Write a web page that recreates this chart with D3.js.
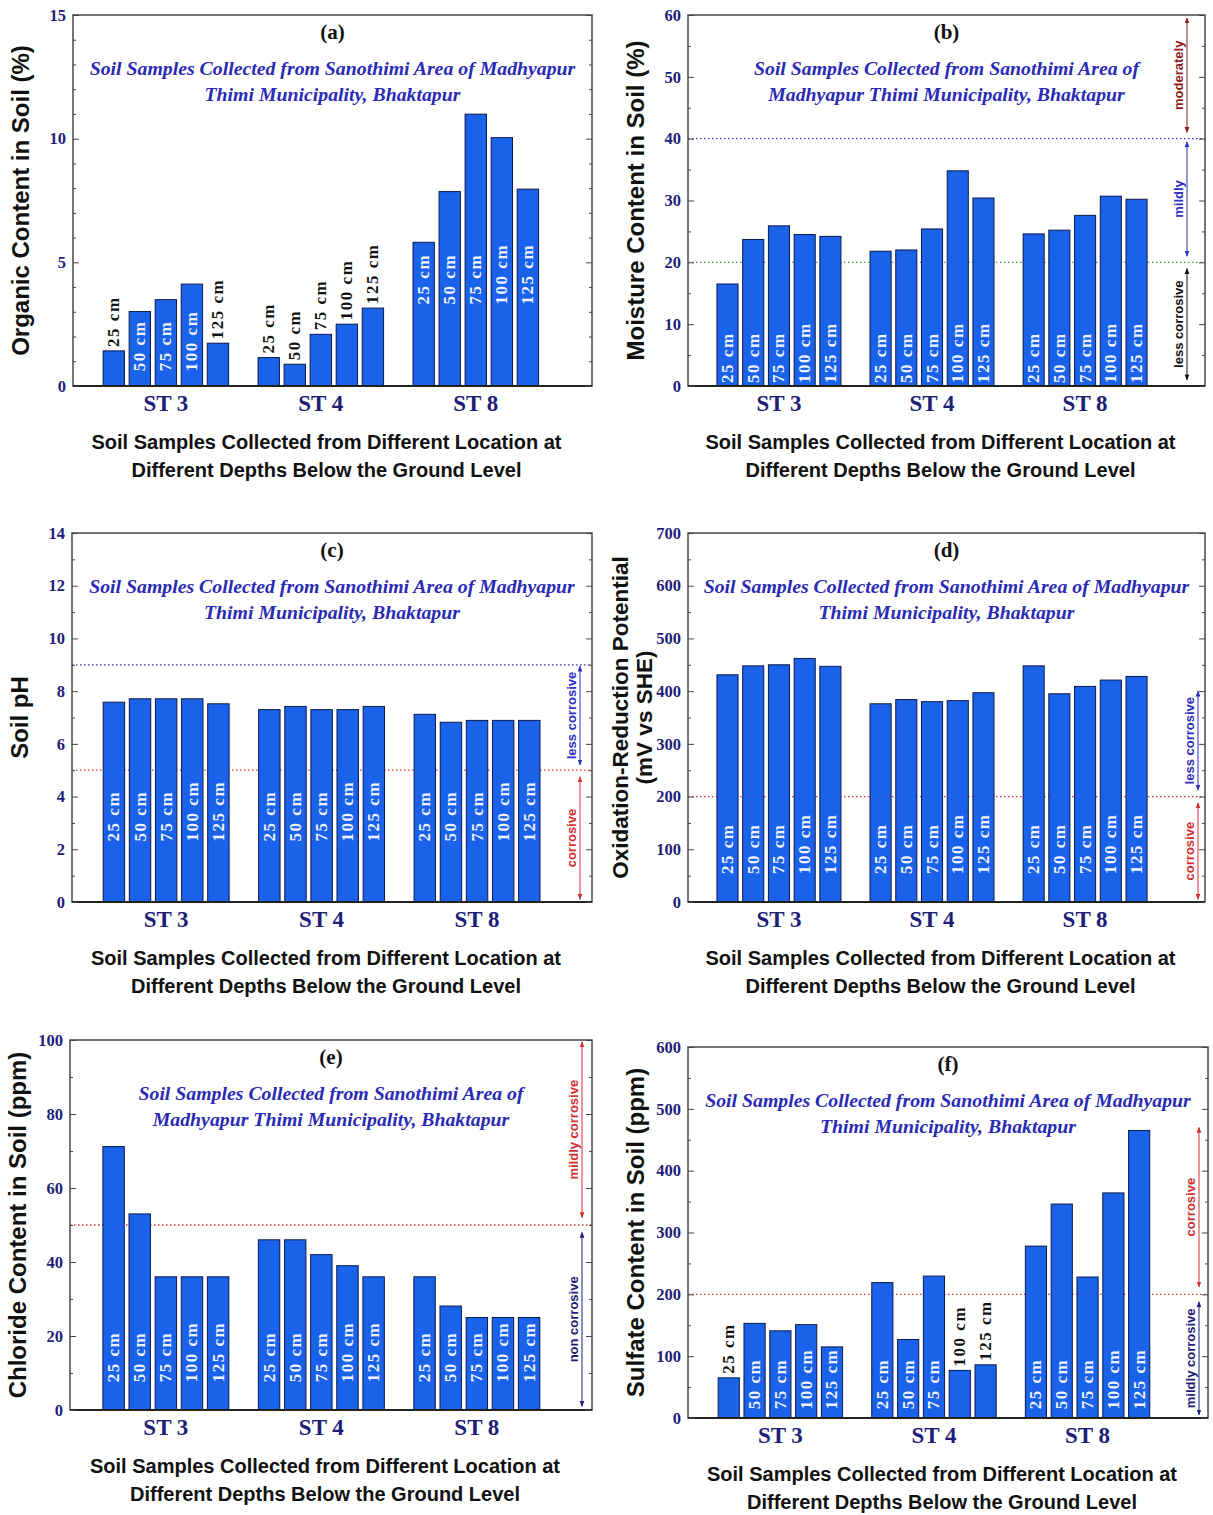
<!DOCTYPE html>
<html>
<head>
<meta charset="utf-8">
<script src="https://cdn.jsdelivr.net/npm/d3@7"></script>
<style>
  html, body { margin: 0; padding: 0; background: #ffffff; }
  svg { display: block; }
</style>
</head>
<body>
<svg id="chart" width="1213" height="1515"></svg>
<script>
// ---------------- DATA ----------------
const groups = ["ST 3", "ST 4", "ST 8"];
const depths = ["25 cm", "50 cm", "75 cm", "100 cm", "125 cm"];

const organicContent  = [[1.42, 3.01, 3.49, 4.12, 1.73], [1.15, 0.88, 2.09, 2.50, 3.15], [5.81, 7.86, 10.99, 10.04, 7.96]];
const moistureContent = [[16.5, 23.7, 25.9, 24.5, 24.2], [21.8, 22.0, 25.4, 34.8, 30.4], [24.6, 25.2, 27.6, 30.7, 30.2]];
const soilPH          = [[7.58, 7.71, 7.71, 7.71, 7.52], [7.30, 7.42, 7.30, 7.30, 7.42], [7.12, 6.82, 6.89, 6.89, 6.89]];
const redoxPotential  = [[431, 448, 450, 462, 447], [376, 384, 380, 382, 397], [448, 395, 409, 421, 428]];
const chlorideContent = [[71.2, 53, 36, 36, 36], [46, 46, 42, 39, 36], [36, 28.1, 25, 25, 25]];
const sulfateContent  = [[65, 153, 141, 151, 115], [219, 127, 229.5, 77, 86], [278, 346, 228, 364, 465]];

const ticksA = [0, 5, 10, 15];
const ticksB = [0, 10, 20, 30, 40, 50, 60];
const ticksC = [0, 2, 4, 6, 8, 10, 12, 14];
const ticksD = [0, 100, 200, 300, 400, 500, 600, 700];
const ticksE = [0, 20, 40, 60, 80, 100];
const ticksF = [0, 100, 200, 300, 400, 500, 600];

const subtitleWide   = ["Soil Samples Collected from Sanothimi Area of Madhyapur", "Thimi Municipality, Bhaktapur"];
const subtitleNarrow = ["Soil Samples Collected from Sanothimi Area of", "Madhyapur Thimi Municipality, Bhaktapur"];
const xTitle = ["Soil Samples Collected from Different Location at", "Different Depths Below the Ground Level"];

// label placement: "o" = above bar (black), "i" = inside bar (white)
const labelModeA = [["o","i","i","i","o"], ["o","o","o","o","o"], ["i","i","i","i","i"]];
const labelModeF = [["o","i","i","i","i"], ["i","i","i","o","o"], ["i","i","i","i","i"]];
const allInside  = [["i","i","i","i","i"], ["i","i","i","i","i"], ["i","i","i","i","i"]];

// ---------------- STYLE ----------------
const BAR = "#1b62ea", BAR_STROKE = "#0b1a4a";
const NAVY = "#1e1e78", SUB = "#2a2ab4";
const RED = "#d23030", DARKRED = "#8e1c1c", BLUE = "#2f2fc0", GREEN = "#4aa04a";

const panels = [
  { tag: "(a)", data: organicContent, ticks: ticksA, minor: 1, box: [73, 15, 592, 386], band: [0.058, 0.897],
    ytitle: ["Organic Content in Soil (%)"], sub: subtitleWide, modes: labelModeA, inStart: [0.6, 0, 3.3],
    lines: [], arrows: [] },
  { tag: "(b)", data: moistureContent, ticks: ticksB, minor: 5, box: [688, 15, 1205, 386], band: [0.056, 0.888],
    ytitle: ["Moisture Content in Soil (%)"], sub: subtitleNarrow, modes: allInside, inStart: [0.5, 0.5, 0.5],
    lines: [{ v: 40, c: BLUE }, { v: 20, c: GREEN }], arrowDx: 18,
    arrows: [{ a: 59.5, b: 41, t: "moderately", c: DARKRED }, { a: 39.5, b: 21, t: "mildly", c: BLUE }, { a: 19, b: 1, t: "less corrosive", c: "#111" }] },
  { tag: "(c)", data: soilPH, ticks: ticksC, minor: 1, box: [72, 533, 592, 902], band: [0.060, 0.900],
    ytitle: ["Soil pH"], sub: subtitleWide, modes: allInside, inStart: [2.3, 2.3, 2.3],
    lines: [{ v: 9, c: BLUE }, { v: 5, c: RED }], arrowDx: 12,
    arrows: [{ a: 8.95, b: 5.2, t: "less corrosive", c: BLUE }, { a: 4.75, b: 0.1, t: "corrosive", c: RED }] },
  { tag: "(d)", data: redoxPotential, ticks: ticksD, minor: 50, box: [688, 533, 1205, 902], band: [0.056, 0.888],
    ytitle: ["Oxidation-Reduction Potential", "(mV vs SHE)"], sub: subtitleWide, modes: allInside, inStart: [53, 53, 53],
    lines: [{ v: 200, c: RED }], arrowDx: 7,
    arrows: [{ a: 400, b: 212, t: "less corrosive", c: BLUE }, { a: 188, b: 5, t: "corrosive", c: RED }] },
  { tag: "(e)", data: chlorideContent, ticks: ticksE, minor: 10, box: [70, 1040, 592, 1410], band: [0.063, 0.900],
    ytitle: ["Chloride Content in Soil (ppm)"], sub: subtitleNarrow, modes: allInside, inStart: [7.5, 7.5, 7.5],
    lines: [{ v: 50, c: RED }], arrowDx: 10,
    arrows: [{ a: 99.5, b: 52, t: "mildly corrosive", c: RED }, { a: 48, b: 1, t: "non corrosive", c: NAVY }] },
  { tag: "(f)", data: sulfateContent, ticks: ticksF, minor: 50, box: [688, 1047, 1208, 1418], band: [0.058, 0.888],
    ytitle: ["Sulfate Content in Soil (ppm)"], sub: subtitleWide, modes: labelModeF, inStart: [14, 14, 14],
    lines: [{ v: 200, c: RED }], arrowDx: 9,
    arrows: [{ a: 470, b: 212, t: "corrosive", c: RED }, { a: 188, b: 5, t: "mildly corrosive", c: NAVY }] }
];

const svg = d3.select("#chart");
const defs = svg.append("defs");
function marker(id, color) {
  defs.append("marker").attr("id", id).attr("viewBox", "0 0 10 10").attr("refX", 9).attr("refY", 5)
    .attr("markerWidth", 6).attr("markerHeight", 6).attr("orient", "auto-start-reverse")
    .append("path").attr("d", "M0,1 L10,5 L0,9 Z").attr("fill", color);
}
const markerIds = {};
[DARKRED, BLUE, "#111", RED, NAVY].forEach((c, i) => { markerIds[c] = "m" + i; marker("m" + i, c); });

panels.forEach(p => {
  const [x0, y0, x1, y1] = p.box;
  const w = x1 - x0;
  const g = svg.append("g");
  const yMax = p.ticks[p.ticks.length - 1];
  const y = d3.scaleLinear().domain([0, yMax]).range([y1, y0]);
  const xg = d3.scaleBand().domain(groups).range([x0 + p.band[0] * w, x0 + p.band[1] * w]).paddingInner(0.19).paddingOuter(0);
  const xb = d3.scaleBand().domain(depths).range([0, xg.bandwidth()]).paddingInner(0.18).paddingOuter(0);

  // reference lines
  p.lines.forEach(l => {
    g.append("line").attr("x1", x0).attr("x2", x1).attr("y1", y(l.v)).attr("y2", y(l.v))
      .attr("stroke", l.c).attr("stroke-width", 1.3).attr("stroke-dasharray", "1.5,2.5");
  });

  // bars
  groups.forEach((grp, gi) => {
    const gg = g.append("g").attr("transform", `translate(${xg(grp)},0)`);
    gg.selectAll("rect").data(p.data[gi]).join("rect")
      .attr("x", (d, i) => xb(depths[i]))
      .attr("y", d => y(d))
      .attr("width", xb.bandwidth())
      .attr("height", d => y(0) - y(d))
      .attr("fill", BAR).attr("stroke", BAR_STROKE).attr("stroke-width", 1);
    gg.selectAll("text").data(p.data[gi]).join("text")
      .attr("transform", (d, i) => {
        const cx = xb(depths[i]) + xb.bandwidth() / 2;
        const cy = p.modes[gi][i] === "o" ? y(d) - 4 : y(p.inStart[gi]);
        return `translate(${cx},${cy}) rotate(-90)`;
      })
      .attr("dominant-baseline", "central")
      .attr("text-anchor", "start")
      .attr("font-family", "'Liberation Serif', 'Times New Roman', serif")
      .attr("font-weight", "bold")
      .attr("font-size", 17)
      .attr("letter-spacing", 1.5)
      .attr("fill", (d, i) => p.modes[gi][i] === "o" ? "#111" : "#eef3ff")
      .text((d, i) => depths[i]);
  });

  // frame
  g.append("rect").attr("x", x0).attr("y", y0).attr("width", w).attr("height", y1 - y0)
    .attr("fill", "none").attr("stroke", "#4a4a4a").attr("stroke-width", 1.5);
  g.append("line").attr("x1", x0).attr("x2", x1).attr("y1", y1).attr("y2", y1).attr("stroke", "#222").attr("stroke-width", 2);

  // axes
  const minorVals = d3.range(0, yMax + 1e-9, p.minor).filter(v => !p.ticks.includes(v));
  const left = g.append("g").attr("transform", `translate(${x0},0)`)
    .call(d3.axisLeft(y).tickValues(p.ticks).tickSize(-6).tickPadding(7).tickFormat(d3.format("d")));
  left.select(".domain").remove();
  left.selectAll("line").attr("stroke", "#444");
  left.selectAll("text").attr("font-family", "'Liberation Serif', 'Times New Roman', serif")
    .attr("font-weight", "bold").attr("font-size", 16.5).attr("fill", NAVY);
  const leftMinor = g.append("g").attr("transform", `translate(${x0},0)`)
    .call(d3.axisLeft(y).tickValues(minorVals).tickSize(-3).tickFormat(""));
  leftMinor.select(".domain").remove();
  leftMinor.selectAll("line").attr("stroke", "#444");
  const right = g.append("g").attr("transform", `translate(${x1},0)`)
    .call(d3.axisRight(y).tickValues(p.ticks).tickSize(-6).tickFormat(""));
  right.select(".domain").remove();
  right.selectAll("line").attr("stroke", "#444");
  const rightMinor = g.append("g").attr("transform", `translate(${x1},0)`)
    .call(d3.axisRight(y).tickValues(minorVals).tickSize(-3).tickFormat(""));
  rightMinor.select(".domain").remove();
  rightMinor.selectAll("line").attr("stroke", "#444");

  // group labels
  groups.forEach(grp => {
    g.append("text").attr("x", xg(grp) + xg.bandwidth() / 2).attr("y", y1 + 25)
      .attr("text-anchor", "middle")
      .attr("font-family", "'Liberation Serif', 'Times New Roman', serif")
      .attr("font-weight", "bold").attr("font-size", 23).attr("fill", NAVY).text(grp);
  });

  const cx = (x0 + x1) / 2;
  // panel tag
  g.append("text").attr("x", cx).attr("y", y0 + 24).attr("text-anchor", "middle")
    .attr("font-family", "'Liberation Serif', 'Times New Roman', serif")
    .attr("font-weight", "bold").attr("font-size", 21).attr("fill", "#111").text(p.tag);
  // subtitle
  p.sub.forEach((s, i) => {
    g.append("text").attr("x", cx).attr("y", y0 + 60 + i * 26).attr("text-anchor", "middle")
      .attr("font-family", "'Liberation Serif', 'Times New Roman', serif")
      .attr("font-weight", "bold").attr("font-style", "italic").attr("font-size", 19.8)
      .attr("fill", SUB).text(s);
  });
  // x title
  xTitle.forEach((s, i) => {
    g.append("text").attr("x", cx - 6).attr("y", y1 + 63 + i * 28).attr("text-anchor", "middle")
      .attr("font-family", "'Liberation Sans', Arial, sans-serif")
      .attr("font-weight", "bold").attr("font-size", 20).attr("fill", "#111").text(s);
  });
  // y title
  const ym = (y0 + y1) / 2;
  const nL = p.ytitle.length;
  p.ytitle.forEach((s, i) => {
    const tx = nL === 1 ? x0 - 53 : x0 - 68 + i * 24;
    g.append("text").attr("transform", `translate(${tx},${ym}) rotate(-90)`)
      .attr("text-anchor", "middle").attr("dominant-baseline", "central")
      .attr("font-family", "'Liberation Sans', Arial, sans-serif")
      .attr("font-weight", "bold").attr("font-size", nL === 1 ? 24 : 22.5).attr("fill", "#111").text(s);
  });

  // range arrows
  p.arrows.forEach(a => {
    const ax = x1 - p.arrowDx;
    g.append("line").attr("x1", ax).attr("x2", ax).attr("y1", y(a.a)).attr("y2", y(a.b))
      .attr("stroke", a.c).attr("stroke-width", 1)
      .attr("marker-start", `url(#${markerIds[a.c]})`).attr("marker-end", `url(#${markerIds[a.c]})`);
    g.append("text").attr("transform", `translate(${ax - 9},${(y(a.a) + y(a.b)) / 2}) rotate(-90)`)
      .attr("text-anchor", "middle").attr("dominant-baseline", "central")
      .attr("font-family", "'Liberation Sans', Arial, sans-serif")
      .attr("font-weight", "bold").attr("font-size", 13).attr("fill", a.c).text(a.t);
  });
});
</script>
</body>
</html>
